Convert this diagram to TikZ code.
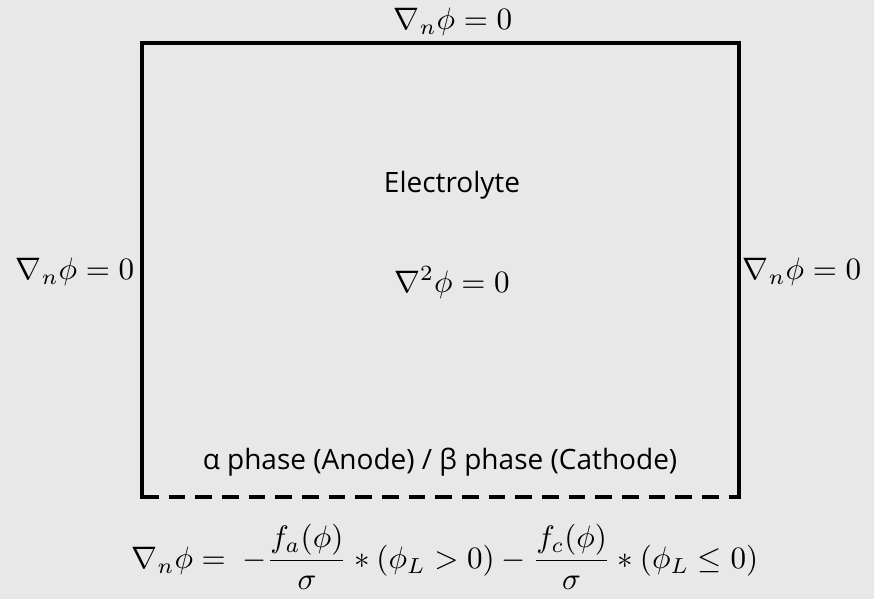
\documentclass[tikz,border=0pt]{standalone}
\usepackage{fontspec}
\setmainfont{Open Sans}
\usepackage{tikz}
\usetikzlibrary{positioning}
\definecolor{bggray}{HTML}{E8E8E8}

\begin{document}
\begin{tikzpicture}[x=0.75pt, y=-0.75pt,
    wall/.style={line width=2.6pt, line cap=rect},
    opening/.style={line width=2.6pt, dash pattern=on 12.5pt off 7.5pt},
    lbl/.style={inner sep=0pt, scale=2.1},
    eqn/.style={inner sep=0pt, scale=2.33}]

        % page and background
        \fill[bggray] (0,0) rectangle (874,599);
        \useasboundingbox (0,0) rectangle (874,599);

        % corners of the cell
        \coordinate (tl) at (142,43);
        \coordinate (tr) at (739,43);
        \coordinate (bl) at (142,497);
        \coordinate (br) at (739,497);

        \draw[wall] (bl) -- (tl) -- (tr) -- (br);
        \draw[opening] (bl) -- (br);

        % boundary conditions
        \node[eqn] (top) at (453,22) {$\nabla_n\phi = 0$};
        \node[eqn] (left) at (75,272) {$\nabla_n\phi = 0$};
        \node[eqn] (right) at (802,272) {$\nabla_n\phi = 0$};
        \node[eqn] (bottom) at (445,557) {$\displaystyle \nabla_n\phi = \ -\frac{f_a(\phi)}{\sigma} * (\phi_L > 0) - \frac{f_c(\phi)}{\sigma} * (\phi_L \le 0)$};

        % inside the cell
        \node[lbl] (elyte) at (452,185) {Electrolyte};
        \node[eqn] (laplace) [below=50pt of elyte] {$\nabla^2\phi = 0$};
        \node[lbl] (phases) at (440,462) {α phase (Anode) / β phase (Cathode)};
    \end{tikzpicture}
\end{document}
